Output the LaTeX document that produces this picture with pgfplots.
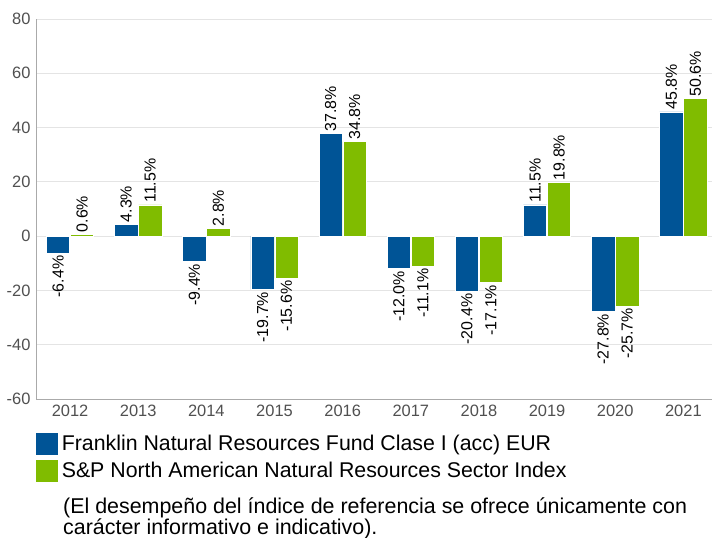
\documentclass[border=0pt]{standalone}
\usepackage{pgfplots}
\pgfplotsset{compat=1.18}
\usepackage{fontspec}
\setmainfont{Liberation Sans}
\definecolor{fblue}{RGB}{0,84,150}
\definecolor{fgreen}{RGB}{128,188,0}
\definecolor{tickgray}{RGB}{80,80,80}
\definecolor{gridgray}{RGB}{228,228,228}
\definecolor{axisgray}{RGB}{170,170,170}
\begin{document}
\begin{tikzpicture}
\path[use as bounding box] (-36bp,-139bp) rectangle (676bp,399bp);
\begin{axis}[
  scale only axis, width=676bp, height=380bp,
  xmin=-0.5, xmax=9.42, ymin=-60, ymax=80,
  xtick={0,...,9}, xticklabels={2012,2013,2014,2015,2016,2017,2018,2019,2020,2021},
  ytick={-60,-40,...,80},
  ymajorgrids, grid style={gridgray, line width=0.8bp},
  axis lines*=left, axis line style={axisgray, line width=0.8bp, -},
  major tick length=0pt,
  xticklabel style={yshift=-3bp},
  yticklabel style={xshift=-2bp},
  ticklabel style={font=\fontsize{16.5}{18}\selectfont, color=tickgray},
  /pgf/number format/assume math mode=true,
  ybar, bar width=0.342,
  nodes near coords={\pgfmathprintnumber[fixed,fixed zerofill,precision=1,assume math mode=true]{\pgfplotspointmeta}\%},
  nodes near coords style={rotate=90, font=\fontsize{16}{18}\selectfont, inner sep=2bp, text=black},
  pos/.style={nodes near coords style={anchor=west}},
  neg/.style={nodes near coords style={anchor=east}},
  fundbar/.style={fill=fblue, draw=white, line width=0.6bp, bar shift=-0.176,
    legend image code/.code={\fill[fblue] (0bp,-10.5bp) rectangle (21bp,10.5bp);}},
  indexbar/.style={fill=fgreen, draw=white, line width=0.6bp, bar shift=0.176,
    legend image code/.code={\fill[fgreen] (0bp,-10.5bp) rectangle (21bp,10.5bp);}},
  clip=false,
  legend style={at={(axis description cs:0,0)}, anchor=north west, xshift=0bp, yshift=-34bp,
    draw=none, fill=none, font=\fontsize{21.4}{24}\selectfont, inner sep=0pt, row sep=5bp,
    nodes={inner xsep=4bp, inner ysep=0pt}},
  legend cell align=left,
]
% Franklin Natural Resources Fund: positive and negative years
\addplot[fundbar, pos] coordinates {(1,4.3) (4,37.8) (7,11.5) (9,45.8)};
\addlegendentry{Franklin Natural Resources Fund Clase I (acc) EUR}
\addplot[fundbar, neg, forget plot] coordinates {(0,-6.4) (2,-9.4) (3,-19.7) (5,-12.0) (6,-20.4) (8,-27.8)};
% S&P North American Natural Resources Sector Index
\addplot[indexbar, pos] coordinates {(0,0.6) (1,11.5) (2,2.8) (4,34.8) (7,19.8) (9,50.6)};
\addlegendentry{S\&P North American Natural Resources Sector Index}
\addplot[indexbar, neg, forget plot] coordinates {(3,-15.6) (5,-11.1) (6,-17.1) (8,-25.7)};
\end{axis}
\node[anchor=north west, align=left, inner sep=0pt, font=\fontsize{21.5}{21.5}\selectfont] at (27bp,-98.5bp)
  {(El desempeño del índice de referencia se ofrece únicamente con\\carácter informativo e indicativo).};
\end{tikzpicture}
\end{document}
